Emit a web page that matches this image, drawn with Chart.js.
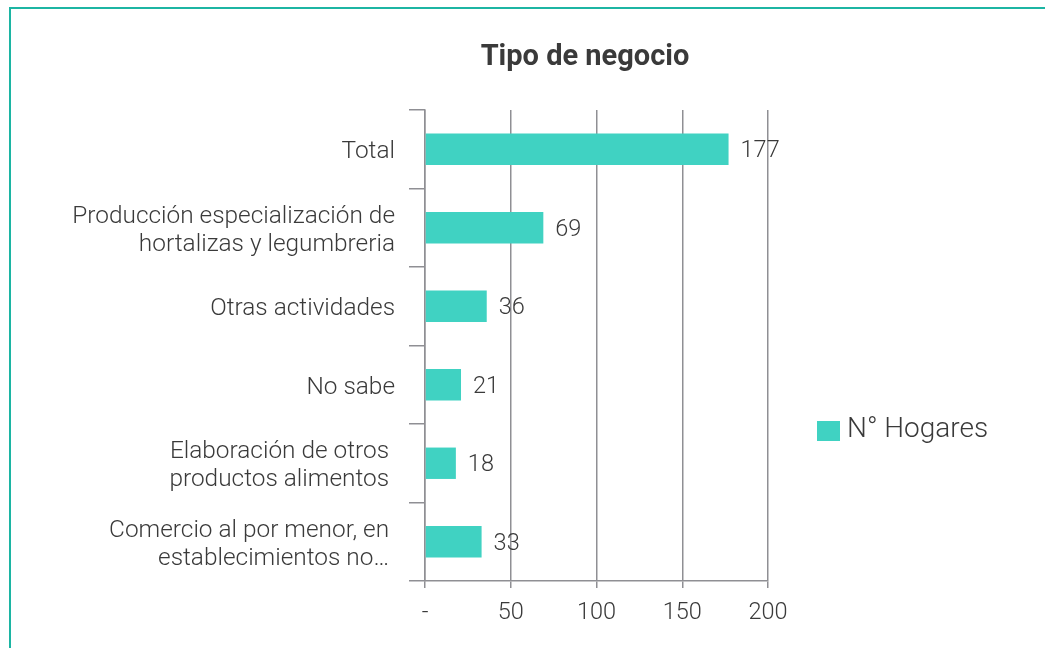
<!DOCTYPE html>
<html><head><meta charset="utf-8">
<script src="https://cdn.jsdelivr.net/npm/chart.js@4.4.0/dist/chart.umd.min.js"></script>
<style>
html,body{margin:0;padding:0;background:#fff;overflow:hidden;width:1045px;height:648px}
#frame{position:absolute;left:9px;top:7px;width:1100px;height:700px;border-left:2px solid #1cb5a3;border-top:2px solid #1cb5a3;}
#wrap{position:absolute;left:0;top:0;width:1160px;height:648px}
</style></head><body>
<div id="frame"></div>
<div id="wrap"><canvas id="c" width="1160" height="648"></canvas></div>
<script>
const categories = [
  'Total',
  ['Producción especialización de', 'hortalizas y legumbreria'],
  'Otras actividades',
  'No sabe',
  ['Elaboración de otros ', 'productos alimentos '],
  ['Comercio al por menor, en ', 'establecimientos no… ']
];
const hogares = [177, 69, 36, 21, 18, 33];
const xTickValues = [0, 50, 100, 150, 200];
const seriesName = 'N° Hogares';
const chartTitle = 'Tipo de negocio';

const FONT = "'Roboto', 'Noto Sans', sans-serif";
const TEXT = '#3a3a3a';
const GRID = '#8f8f94';
const BAR = '#40d2c2';

const valueLabels = {
  id: 'valueLabels',
  afterDatasetsDraw(chart) {
    const ctx = chart.ctx;
    const meta = chart.getDatasetMeta(0);
    ctx.save();
    ctx.font = '300 23.5px ' + FONT;
    ctx.fillStyle = TEXT;
    ctx.textAlign = 'left';
    ctx.textBaseline = 'middle';
    meta.data.forEach((bar, i) => {
      ctx.fillText(String(chart.data.datasets[0].data[i]), bar.x + 12, bar.y + 2);
    });
    ctx.restore();
  }
};

const sideLegend = {
  id: 'sideLegend',
  afterDraw(chart) {
    const ctx = chart.ctx;
    const ds = chart.data.datasets[0];
    ctx.save();
    ctx.fillStyle = ds.backgroundColor;
    ctx.fillRect(817, 421, 23, 20);
    ctx.font = '300 28px ' + FONT;
    ctx.fillStyle = TEXT;
    ctx.textAlign = 'left';
    ctx.textBaseline = 'middle';
    ctx.fillText(ds.label, 847, 430);
    ctx.restore();
  }
};

new Chart(document.getElementById('c'), {
  type: 'bar',
  data: {
    labels: categories,
    datasets: [{
      label: seriesName,
      data: hogares,
      backgroundColor: BAR,
      borderWidth: 0,
      categoryPercentage: 1,
      barPercentage: 0.4
    }]
  },
  plugins: [valueLabels, sideLegend],
  options: {
    indexAxis: 'y',
    responsive: false,
    animation: false,
    devicePixelRatio: 1,
    layout: { padding: { left: 10, right: 0, top: 0, bottom: 0 } },
    plugins: {
      legend: { display: false },
      tooltip: { enabled: false },
      title: {
        display: true,
        text: chartTitle,
        color: TEXT,
        font: { family: FONT, size: 29, weight: 'bold', lineHeight: 1.2 },
        padding: { top: 40, bottom: 35.2 }
      }
    },
    scales: {
      x: {
        min: 0,
        max: 200,
        afterBuildTicks(scale) { scale.ticks = xTickValues.map(v => ({ value: v })); },
        afterFit(scale) { scale.height = 67; },
        grid: { color: GRID, lineWidth: 1.5, tickLength: 7, drawTicks: true },
        border: { color: GRID, width: 1.5 },
        ticks: {
          color: TEXT,
          padding: 11,
          font: { family: FONT, size: 23.5, weight: '300' },
          callback: v => v === 0 ? '-' : v
        }
      },
      y: {
        afterFit(scale) { scale.width = 415; },
        grid: { drawOnChartArea: false, drawTicks: true, tickLength: 16, color: GRID, lineWidth: 1.5, offset: true },
        border: { color: GRID, width: 1.5 },
        ticks: {
          color: TEXT,
          padding: 14,
          labelOffset: 3,
          autoSkip: false,
          font: { family: FONT, size: 24.4, weight: '300', lineHeight: 1.15 }
        }
      },
      spacer: {
        type: 'linear',
        position: 'right',
        display: true,
        afterFit(scale) { scale.width = 392; },
        grid: { display: false, drawTicks: false },
        border: { display: false },
        ticks: { display: false }
      }
    }
  }
});
</script>
</body></html>
